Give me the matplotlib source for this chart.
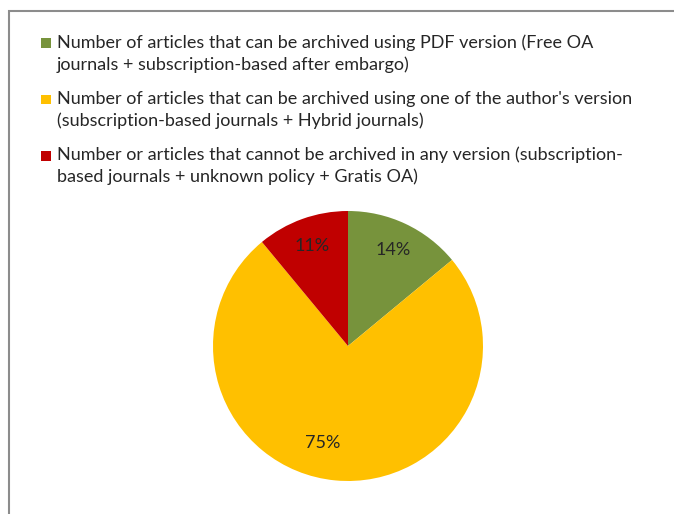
import matplotlib.pyplot as plt
from matplotlib.patches import Rectangle, Patch
from matplotlib.legend_handler import HandlerPatch

labels = [
    "Number of articles that can be archived using PDF version (Free OA\njournals + subscription-based after embargo)",
    "Number of articles that can be archived using one of the author's version\n(subscription-based journals + Hybrid journals)",
    "Number or articles that cannot be archived in any version (subscription-\nbased journals + unknown policy + Gratis OA)",
]
shares = [14, 75, 11]
colors = ["#77933C", "#FFC000", "#C00000"]

plt.rcParams['font.family'] = ['Lato', 'DejaVu Sans']

fig = plt.figure(figsize=(6.74, 5.14), dpi=100)
W, H = 674, 514

# chart frame (runs off the right and bottom edges)
fig.patches.append(Rectangle((9 / W, -0.1), 1.2, 1 - 11 / H + 0.1,
                             transform=fig.transFigure, fill=False,
                             edgecolor="#8c8c8c", linewidth=1.5))

# pie area: centre (348, 346), radius ~135 px
r = 135
ax = fig.add_axes([(348 - r) / W, (H - 346 - r) / H, 2 * r / W, 2 * r / H])
wedges, texts, autotexts = ax.pie(shares, colors=colors, startangle=90,
                                  counterclock=False, autopct='%d%%',
                                  pctdistance=0.79,
                                  wedgeprops=dict(linewidth=0),
                                  textprops=dict(fontsize=13, color="#262626"))
ax.set_aspect('equal')
ax.set_xlim(-1, 1)
ax.set_ylim(-1, 1)
ax.axis('off')
# nudge the big slice's label the way the spreadsheet placed it
autotexts[1].set_position((-0.19, -0.72))


def top_square(legend, orig_handle, xdescent, ydescent, width, height, fontsize):
    # square key lined up with the first line of a two-line label
    size = 0.55 * fontsize
    y = -ydescent + (height - size) / 2 + 0.58 * fontsize
    return Rectangle((-xdescent, y), size, size)


handles = [Patch(facecolor=c, edgecolor='none') for c in colors]
leg = fig.legend(handles, labels, loc='upper left',
                 bbox_to_anchor=(25 / W, 1 - 18 / H), frameon=False,
                 fontsize=13, handlelength=0.55, handleheight=0.55,
                 handletextpad=0.3, labelspacing=1.0, labelcolor="#262626",
                 handler_map={Patch: HandlerPatch(patch_func=top_square)})
for t in leg.get_texts():
    t.set_linespacing(1.4)

fig.savefig('out.png', dpi=100)
